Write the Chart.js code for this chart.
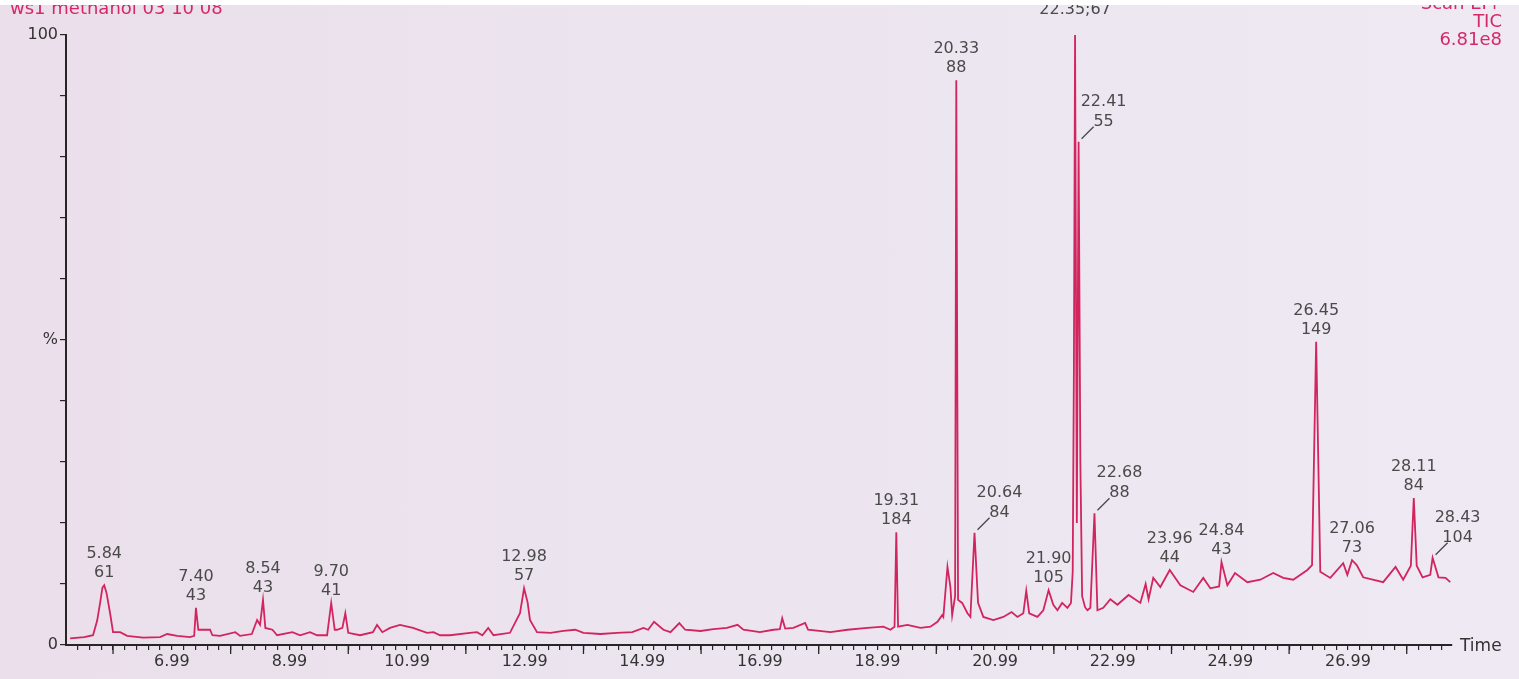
<!DOCTYPE html>
<html>
<head>
<meta charset="utf-8">
<script src="https://cdn.jsdelivr.net/npm/chart.js@4.4.1/dist/chart.umd.min.js"></script>
<style>
html, body { margin: 0; padding: 0; width: 1519px; height: 679px; overflow: hidden; }
body { background: linear-gradient(90deg, #eadfea 0%, #ece5f0 50%, #eee9f3 100%); position: relative; font-family: 'DejaVu Sans', sans-serif; }
#caixa { position: absolute; left: 0; top: 0; width: 1519px; height: 679px; }
.cab { position: absolute; color: #d4286a; font-size: 18px; line-height: 18px; white-space: nowrap; }
#faixa { position: absolute; left: 0; top: 0; width: 1519px; height: 5px; background: #fff; }
</style>
</head>
<body>
<div id="caixa"><canvas id="grafTic" width="1519" height="679"></canvas></div>
<div class="cab" style="left:10px;top:-1px">ws1 methanol 03 10 08</div>
<div class="cab" style="right:17px;top:-6px;text-align:right">Scan EI+<br>TIC<br>6.81e8</div>
<div id="faixa"></div>
<script>
// tempo de retenção (min) e intensidade relativa (%)
const tempos = [
    5.26, 5.50, 5.65, 5.72, 5.77, 5.81, 5.84, 5.88, 5.94, 5.99,
    6.11, 6.23, 6.50, 6.79, 6.91, 7.08, 7.30, 7.37, 7.40, 7.44,
    7.64, 7.68, 7.81, 8.07, 8.15, 8.35, 8.44, 8.49, 8.54, 8.58,
    8.70, 8.78, 9.04, 9.17, 9.34, 9.46, 9.63, 9.70, 9.76, 9.80,
    9.89, 9.94, 9.99, 10.19, 10.41, 10.48, 10.57, 10.70, 10.87, 11.09,
    11.33, 11.44, 11.55, 11.72, 12.06, 12.18, 12.27, 12.37, 12.46, 12.74,
    12.91, 12.98, 13.04, 13.08, 13.20, 13.43, 13.65, 13.85, 13.99, 14.28,
    14.56, 14.82, 15.01, 15.09, 15.19, 15.35, 15.47, 15.62, 15.72, 15.98,
    16.20, 16.43, 16.61, 16.71, 16.99, 17.22, 17.33, 17.37, 17.42, 17.56,
    17.76, 17.81, 18.19, 18.48, 18.82, 19.09, 19.21, 19.28, 19.31, 19.34,
    19.50, 19.72, 19.89, 20.01, 20.09, 20.11, 20.18, 20.23, 20.26, 20.31,
    20.33, 20.36, 20.43, 20.52, 20.57, 20.64, 20.70, 20.79, 20.96, 21.13,
    21.27, 21.37, 21.47, 21.52, 21.57, 21.71, 21.81, 21.90, 21.98, 22.05,
    22.13, 22.22, 22.28, 22.31, 22.33, 22.35, 22.38, 22.41, 22.44, 22.47,
    22.52, 22.56, 22.61, 22.68, 22.73, 22.83, 22.95, 23.07, 23.26, 23.46,
    23.55, 23.60, 23.68, 23.80, 23.96, 24.14, 24.36, 24.53, 24.65, 24.80,
    24.84, 24.94, 25.07, 25.28, 25.50, 25.72, 25.89, 26.06, 26.30, 26.38,
    26.45, 26.52, 26.69, 26.91, 26.98, 27.06, 27.14, 27.25, 27.59, 27.80,
    27.93, 28.06, 28.11, 28.16, 28.26, 28.39, 28.43, 28.53, 28.65, 28.73
]
const intensidade = [
    1.1, 1.3, 1.6, 4.0, 6.9, 9.4, 9.8, 8.5, 5.2, 2.1,
    2.1, 1.5, 1.2, 1.3, 1.8, 1.5, 1.3, 1.5, 6.1, 2.5,
    2.5, 1.6, 1.5, 2.1, 1.5, 1.8, 4.1, 3.3, 7.4, 2.8,
    2.5, 1.6, 2.1, 1.6, 2.1, 1.6, 1.6, 6.9, 2.5, 2.5,
    2.8, 5.2, 2.0, 1.6, 2.1, 3.3, 2.1, 2.8, 3.3, 2.8,
    2.0, 2.1, 1.6, 1.6, 2.0, 2.1, 1.6, 2.8, 1.6, 2.0,
    5.2, 9.3, 7.0, 4.1, 2.1, 2.0, 2.3, 2.5, 2.0, 1.8,
    2.0, 2.1, 2.8, 2.5, 3.8, 2.5, 2.1, 3.6, 2.5, 2.3,
    2.6, 2.8, 3.3, 2.5, 2.1, 2.5, 2.6, 4.4, 2.7, 2.8,
    3.6, 2.5, 2.1, 2.5, 2.8, 3.0, 2.5, 3.0, 18.5, 3.0,
    3.3, 2.8, 3.0, 3.8, 4.9, 4.6, 12.8, 9.5, 4.9, 8.0,
    92.6, 7.4, 6.9, 5.2, 4.6, 18.4, 6.9, 4.6, 4.1, 4.6,
    5.4, 4.6, 5.2, 8.9, 5.2, 4.6, 5.7, 9.0, 6.6, 5.7,
    6.9, 6.1, 6.9, 12, 45, 100, 20, 82.5, 30, 8,
    6.2, 5.7, 6.1, 21.6, 5.7, 6.1, 7.5, 6.6, 8.2, 6.9,
    10.0, 7.5, 11.0, 9.5, 12.3, 9.8, 8.7, 11.0, 9.3, 9.6,
    13.6, 9.8, 11.8, 10.3, 10.7, 11.8, 11.0, 10.7, 12.3, 13.1,
    49.7, 12.0, 11.0, 13.4, 11.5, 13.9, 13.1, 11.1, 10.3, 12.8,
    10.7, 13.0, 24.1, 13.0, 11.1, 11.5, 14.3, 11.1, 11.0, 10.3
]

// rótulos dos picos (tempo e m/z)
const picoTempo = ['5.84', '7.40', '8.54', '9.70', '12.98', '19.31', '20.33', '20.64', '21.90',
    '22.35', '22.41', '22.68', '23.96', '24.84', '26.45', '27.06', '28.11', '28.43']
const picoMassa = ['61', '43', '43', '41', '57', '184', '88', '84', '105',
    '67', '55', '88', '44', '43', '149', '73', '84', '104']
// n = normal, l = com traço, j = numa linha só
const picoEstilo = ['n', 'n', 'n', 'n', 'n', 'n', 'n', 'l', 'n',
    'j', 'l', 'l', 'n', 'n', 'n', 'n', 'n', 'l']

const rotulosX = ['6.99', '8.99', '10.99', '12.99', '14.99', '16.99', '18.99', '20.99', '22.99', '24.99', '26.99']
const rotulosY = { 0: '0', 50: '%', 100: '100' }

const grafTic = document.getElementById('grafTic')

Chart.defaults.font.family = "'DejaVu Sans', sans-serif"
Chart.defaults.font.size = 16
Chart.defaults.color = '#333333'

const corEixo = '#262626'

const extras = {
    id: 'extras',
    afterDatasetsDraw(chart) {
        const ctx = chart.ctx
        const xS = chart.scales.x
        const yS = chart.scales.y
        ctx.save()
        ctx.font = "16px 'DejaVu Sans'"
        ctx.fillStyle = '#4a4a4a'
        ctx.strokeStyle = '#4a4a4a'
        ctx.lineWidth = 1.3
        ctx.textAlign = 'center'
        ctx.textBaseline = 'middle'
        picoTempo.forEach((t, i) => {
            const j = tempos.findIndex(v => Math.abs(v - parseFloat(t)) < 0.001)
            const px = xS.getPixelForValue(tempos[j])
            const py = yS.getPixelForValue(intensidade[j])
            if (picoEstilo[i] === 'j') {
                ctx.fillText(t + ';' + picoMassa[i], px, py - 25)
            } else if (picoEstilo[i] === 'l') {
                ctx.beginPath()
                ctx.moveTo(px + 3, py - 3)
                ctx.lineTo(px + 15, py - 15)
                ctx.stroke()
                ctx.fillText(t, px + 25, py - 40)
                ctx.fillText(picoMassa[i], px + 25, py - 20)
            } else {
                ctx.fillText(t, px, py - 31)
                ctx.fillText(picoMassa[i], px, py - 12)
            }
        })

        // marcas maiores no eixo do tempo
        ctx.strokeStyle = corEixo
        ctx.lineWidth = 1.3
        xS.ticks.forEach(tk => {
            const k = (tk.value - 5.99) / 2
            if (Math.abs(k - Math.round(k)) < 1e-6) {
                const px = xS.getPixelForValue(tk.value)
                ctx.beginPath()
                ctx.moveTo(px, xS.top)
                ctx.lineTo(px, xS.top + 9)
                ctx.stroke()
            }
        })

        ctx.fillStyle = '#333333'
        ctx.font = "17px 'DejaVu Sans'"
        ctx.textAlign = 'left'
        ctx.fillText('Time', xS.right + 8, xS.top + 2)
        ctx.restore()
    }
}

new Chart(grafTic, {
    type: 'line',
    data: {
        datasets: [{
            data: tempos.map((t, i) => ({ x: t, y: intensidade[i] })),
            borderColor: '#d2245e',
            borderWidth: 1.8,
            pointRadius: 0,
            tension: 0,
            fill: false,
            clip: false
        }]
    },
    options: {
        responsive: false,
        animation: false,
        layout: {
            padding: { top: 35, right: 67, left: 0, bottom: 0 }
        },
        plugins: {
            legend: { display: false },
            tooltip: { enabled: false }
        },
        scales: {
            x: {
                type: 'linear',
                min: 5.19,
                max: 28.76,
                afterFit: (s) => { s.height = 34 },
                afterBuildTicks: (s) => {
                    const lista = []
                    for (let k = 0; k <= 116; k++) {
                        lista.push({ value: Math.round((5.39 + 0.2 * k) * 100) / 100 })
                    }
                    s.ticks = lista
                },
                ticks: {
                    autoSkip: false,
                    maxRotation: 0,
                    padding: 2,
                    color: '#333333',
                    callback: (v) => {
                        const txt = v.toFixed(2)
                        return rotulosX.includes(txt) ? txt : ''
                    }
                },
                grid: {
                    drawOnChartArea: false,
                    tickLength: 5,
                    color: corEixo,
                    lineWidth: 1.2
                },
                border: { color: corEixo, width: 2 }
            },
            y: {
                min: 0,
                max: 100,
                afterFit: (s) => { s.width = 66 },
                ticks: {
                    stepSize: 10,
                    padding: 2,
                    color: '#333333',
                    callback: (v) => rotulosY[v] !== undefined ? rotulosY[v] : ''
                },
                grid: {
                    drawOnChartArea: false,
                    tickLength: 6,
                    color: corEixo,
                    lineWidth: 1.2
                },
                border: { color: corEixo, width: 2 }
            }
        }
    },
    plugins: [extras]
})
</script>
</body>
</html>
